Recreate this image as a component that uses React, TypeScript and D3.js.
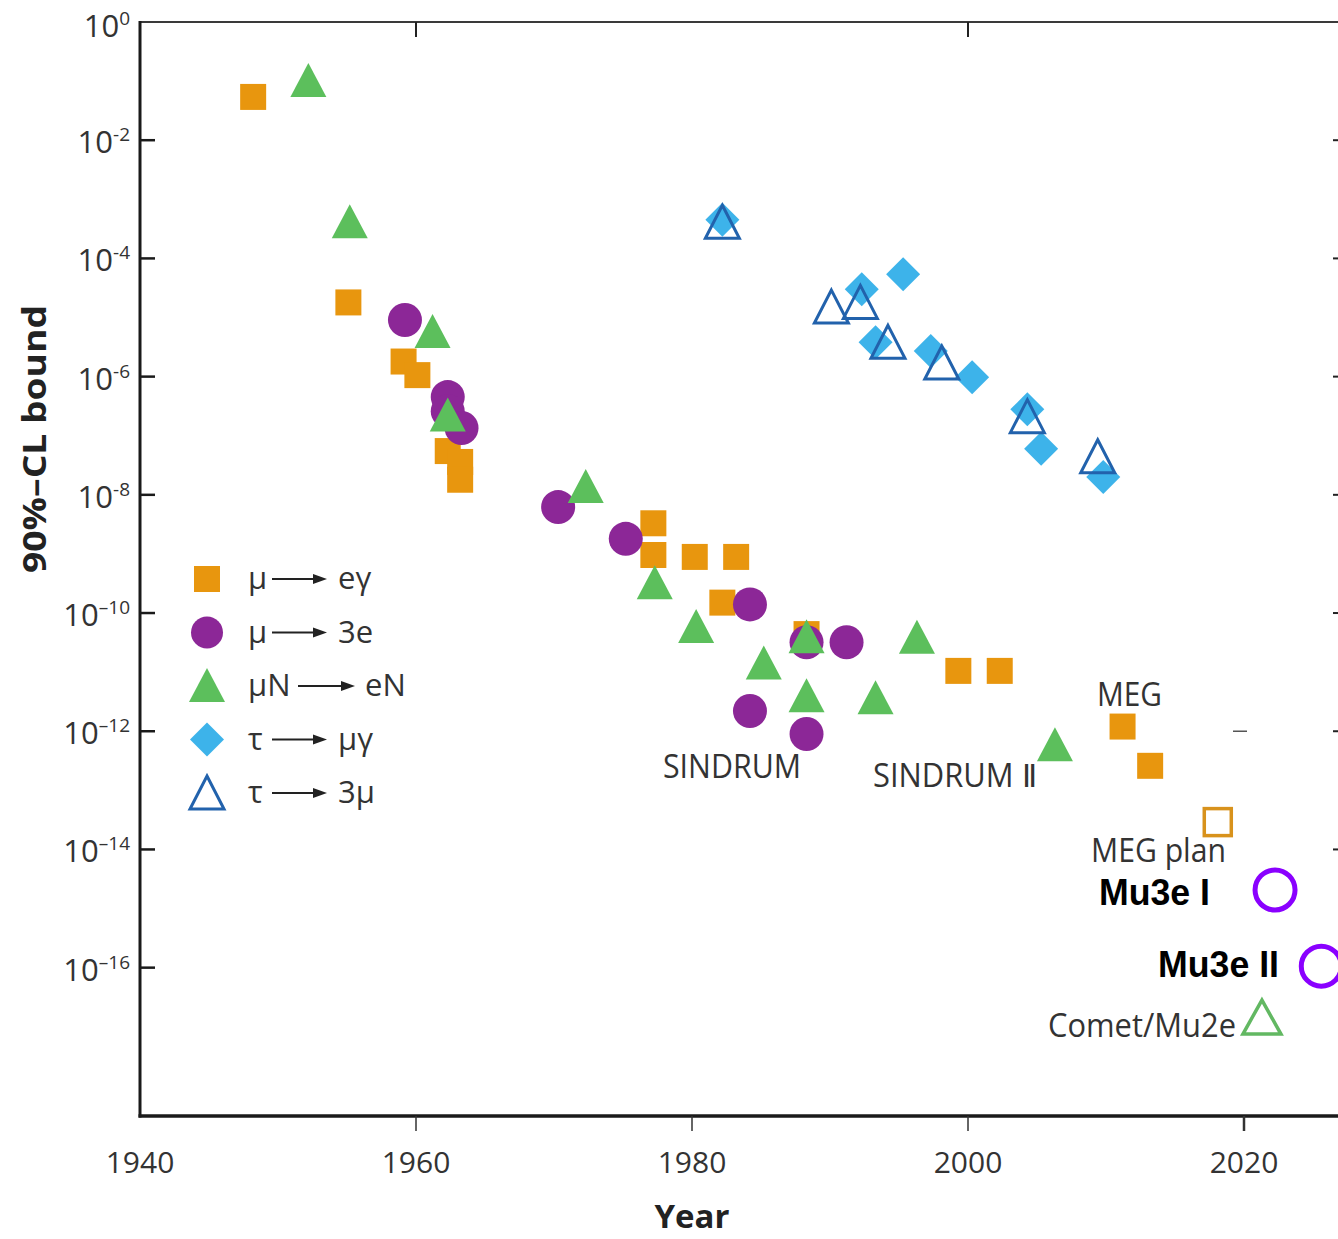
import { useEffect, useRef } from "react";
import * as d3 from "d3";

// μ → eγ (filled orange squares)
const muEgYears = [1948.2, 1955.1, 1959.1, 1960.1, 1962.3, 1963.2, 1963.2, 1977.2, 1977.2, 1980.2, 1983.2, 1982.2, 1988.3, 1999.3, 2002.3, 2011.2, 2013.2];
const muEgValues = [5.4e-2, 1.8e-5, 1.8e-6, 1.06e-6, 5.5e-8, 3.6e-8, 1.8e-8, 3.3e-9, 9.6e-10, 8.9e-10, 8.9e-10, 1.5e-10, 4.4e-11, 1.05e-11, 1.05e-11, 1.2e-12, 2.6e-13];

// μ → 3e (filled purple circles)
const mu3eYears = [1959.2, 1962.3, 1962.3, 1963.3, 1970.3, 1975.2, 1984.2, 1988.3, 1991.2, 1984.2, 1988.3];
const mu3eValues = [9.1e-6, 4.5e-7, 2.6e-7, 1.35e-7, 6.2e-9, 1.8e-9, 1.4e-10, 3.2e-11, 3.2e-11, 2.2e-12, 9e-13];

// μN → eN (filled green triangles)
const muNeNYears = [1952.2, 1955.2, 1961.2, 1962.3, 1972.3, 1977.3, 1980.3, 1985.2, 1988.3, 1988.3, 1993.3, 1996.3, 2006.3];
const muNeNValues = [1.0e-1, 4.1e-4, 5.7e-6, 2.2e-7, 1.35e-8, 3.2e-10, 5.8e-11, 1.4e-11, 3.9e-11, 3.9e-12, 3.6e-12, 3.8e-11, 5.8e-13];

// τ → μγ (light blue diamonds)
const tauMuGYears = [1982.2, 1992.3, 1995.3, 1993.3, 1997.3, 2000.3, 2004.3, 2005.3, 2009.8];
const tauMuGValues = [4.5e-4, 3.0e-5, 5.4e-5, 3.8e-6, 2.7e-6, 9.8e-7, 2.8e-7, 6.0e-8, 2.0e-8];

// τ → 3μ (open blue triangles)
const tau3muYears = [1982.2, 1990.1, 1992.2, 1994.2, 1998.1, 2004.3, 2009.4];
const tau3muValues = [4.1e-4, 1.5e-5, 1.8e-5, 3.8e-6, 1.7e-6, 2.1e-7, 4.4e-8];

// planned experiments
const megPlan = { year: 2018.1, value: 2.9e-14 };
const cometMu2e = { year: 2021.3, value: 1.46e-17 };
const mu3ePhases = ["Mu3e I", "Mu3e II"];
const mu3eYearsPlan = [2022.25, 2025.6];
const mu3eValuesPlan = [2.06e-15, 1.06e-16];

const yTickExponents = [0, -2, -4, -6, -8, -10, -12, -14, -16];
const xTickYears = [1940, 1960, 1980, 2000, 2020];

const legendItems = [
  { left: "μ", right: "eγ", kind: "square" },
  { left: "μ", right: "3e", kind: "circle" },
  { left: "μN", right: "eN", kind: "triangle" },
  { left: "τ", right: "μγ", kind: "diamond" },
  { left: "τ", right: "3μ", kind: "openTriangle" },
];

const COLORS = {
  square: "#E8960E",
  circle: "#8C2797",
  triangle: "#5CBF5C",
  diamond: "#3DB3EA",
  openTriangle: "#2262AC",
  mu3e: "#8A00FF",
};

const FONT = "'Open Sans', 'Noto Sans', sans-serif";

function markerPath(kind: string, cx: number, cy: number) {
  if (kind === "square") {
    const s = 13;
    return `M${cx - s},${cy - s}h${2 * s}v${2 * s}h${-2 * s}Z`;
  }
  if (kind === "diamond") {
    const s = 17;
    return `M${cx},${cy - s}L${cx + s},${cy}L${cx},${cy + s}L${cx - s},${cy}Z`;
  }
  if (kind === "triangle") {
    return `M${cx},${cy - 18}L${cx + 18},${cy + 16}L${cx - 18},${cy + 16}Z`;
  }
  if (kind === "openTriangle") {
    return `M${cx},${cy - 17}L${cx + 17},${cy + 16}L${cx - 17},${cy + 16}Z`;
  }
  return "";
}

export default function App() {
  const ref = useRef<SVGSVGElement | null>(null);
  const width = 1338;
  const height = 1239;
  const margin = { top: 22, left: 140, right: 1345, bottom: 1116 };

  useEffect(() => {
    if (!ref.current) return;
    const svg = d3.select(ref.current);
    svg.selectAll("*").remove();

    const x = d3.scaleLinear().domain([1940, 1940 + (margin.right - margin.left) / 13.8]).range([margin.left, margin.right]);
    const y = d3.scaleLog().domain([1, Math.pow(10, -18.51)]).range([margin.top, margin.bottom]);

    // frame: top and right (thin), left and bottom (thick)
    svg.append("line").attr("x1", margin.left).attr("x2", width).attr("y1", margin.top).attr("y2", margin.top)
      .attr("stroke", "#3a3a3a").attr("stroke-width", 2);
    [1960, 2000].forEach((yr) => {
      svg.append("line").attr("x1", x(yr)).attr("x2", x(yr)).attr("y1", margin.top).attr("y2", margin.top + 15)
        .attr("stroke", "#222").attr("stroke-width", 2);
    });
    yTickExponents.filter((e) => e < 0 && e > -16).forEach((e) => {
      svg.append("line").attr("x1", margin.right - 12).attr("x2", margin.right).attr("y1", y(Math.pow(10, e))).attr("y2", y(Math.pow(10, e)))
        .attr("stroke", "#222").attr("stroke-width", 2);
    });
    // stray dash near 10^-12
    svg.append("line").attr("x1", 1233).attr("x2", 1247).attr("y1", y(1e-12)).attr("y2", y(1e-12))
      .attr("stroke", "#555").attr("stroke-width", 1.5);

    // Y axis
    const yAxis = svg.append("g").attr("transform", `translate(${margin.left},0)`);
    yAxis.append("line").attr("x1", 0).attr("x2", 0).attr("y1", margin.top - 1).attr("y2", margin.bottom + 1.5)
      .attr("stroke", "#1a1a1a").attr("stroke-width", 3);
    yTickExponents.forEach((e) => {
      const ty = y(Math.pow(10, e));
      if (e < 0) {
        yAxis.append("line").attr("x1", 0).attr("x2", 15).attr("y1", ty).attr("y2", ty).attr("stroke", "#1a1a1a").attr("stroke-width", 2.5);
      }
      const label = yAxis.append("text").attr("x", -10).attr("y", ty + (e === 0 ? 15 : 13))
        .attr("text-anchor", "end").style("font-family", FONT).style("fill", "#333");
      label.append("tspan").style("font-size", "31px").text("10");
      const expText = e === 0 ? "0" : (e > -10 ? "-" : "–") + String(-e);
      label.append("tspan").attr("dy", -12).style("font-size", "19px").text(expText);
    });

    // X axis
    const xAxis = svg.append("g").attr("transform", `translate(0,${margin.bottom})`);
    xAxis.append("line").attr("x1", margin.left - 1.5).attr("x2", width).attr("y1", 0).attr("y2", 0)
      .attr("stroke", "#1a1a1a").attr("stroke-width", 3.5);
    xTickYears.forEach((yr) => {
      if (yr > 1940) {
        xAxis.append("line").attr("x1", x(yr)).attr("x2", x(yr)).attr("y1", 0).attr("y2", 15)
          .attr("stroke", "#333").attr("stroke-width", yr === 2020 ? 2.5 : 1.5);
      }
      xAxis.append("text").attr("x", x(yr)).attr("y", 57).attr("text-anchor", "middle")
        .style("font-family", FONT).style("font-size", "30px").style("fill", "#333").text(String(yr));
    });

    // axis titles
    svg.append("text").attr("x", x(1980)).attr("y", 1228).attr("text-anchor", "middle")
      .style("font-family", FONT).style("font-size", "33px").style("font-weight", "bold").style("fill", "#222").text("Year");
    svg.append("text").attr("transform", "translate(46,439) rotate(-90)").attr("text-anchor", "middle")
      .attr("textLength", 268).attr("lengthAdjust", "spacingAndGlyphs")
      .style("font-family", FONT).style("font-size", "33px").style("font-weight", "bold").style("fill", "#222").text("90%–CL bound");

    const plot = svg.append("g");

    const drawFilled = (years: number[], values: number[], kind: string) => {
      const pts = years.map((yr, i) => ({ yr, v: values[i] }));
      if (kind === "circle") {
        plot.selectAll(null).data(pts).enter().append("circle")
          .attr("cx", (d) => x(d.yr)).attr("cy", (d) => y(d.v)).attr("r", 17).attr("fill", COLORS.circle);
      } else {
        plot.selectAll(null).data(pts).enter().append("path")
          .attr("d", (d) => markerPath(kind, x(d.yr), y(d.v)))
          .attr("fill", kind === "openTriangle" ? "none" : (COLORS as any)[kind])
          .attr("stroke", kind === "openTriangle" ? COLORS.openTriangle : "none")
          .attr("stroke-width", 3).attr("stroke-linejoin", "miter");
      }
    };

    drawFilled(muEgYears, muEgValues, "square");
    drawFilled(mu3eYears, mu3eValues, "circle");
    drawFilled(muNeNYears, muNeNValues, "triangle");
    drawFilled(tauMuGYears, tauMuGValues, "diamond");
    drawFilled(tau3muYears, tau3muValues, "openTriangle");

    // planned: MEG plan open square
    plot.append("rect").attr("x", x(megPlan.year) - 13.5).attr("y", y(megPlan.value) - 13.5)
      .attr("width", 27).attr("height", 27).attr("fill", "none").attr("stroke", "#D8921C").attr("stroke-width", 3.5);
    // Comet/Mu2e open triangle
    const cx = x(cometMu2e.year), cy = y(cometMu2e.value);
    plot.append("path").attr("d", `M${cx},${cy - 17}L${cx + 19},${cy + 17}L${cx - 19},${cy + 17}Z`)
      .attr("fill", "none").attr("stroke", "#62B862").attr("stroke-width", 3.5);
    // Mu3e open circles
    mu3ePhases.forEach((p, i) => {
      plot.append("circle").attr("cx", x(mu3eYearsPlan[i])).attr("cy", y(mu3eValuesPlan[i])).attr("r", 20)
        .attr("fill", "none").attr("stroke", COLORS.mu3e).attr("stroke-width", 5);
    });

    // annotations
    const note = (txt: string, lx: number, ly: number, len: number, size: number, bold = false) => {
      plot.append("text").attr("x", lx).attr("y", ly).attr("textLength", len).attr("lengthAdjust", "spacingAndGlyphs")
        .style("font-family", bold ? "'Liberation Sans', Arial, sans-serif" : FONT)
        .style("font-size", `${size}px`).style("font-weight", bold ? "bold" : "normal")
        .style("fill", bold ? "#000" : "#333").text(txt);
    };
    note("SINDRUM", 663, 778, 138, 32);
    note("SINDRUM Ⅱ", 873, 787, 164, 32);
    note("MEG", 1097, 706, 65, 32);
    note("MEG plan", 1091, 862, 135, 32);
    note("Comet/Mu2e", 1048, 1037, 188, 32);
    note(mu3ePhases[0], 1099, 905, 111, 36, true);
    note(mu3ePhases[1], 1158, 977, 121, 36, true);

    // legend
    const legend = svg.append("g");
    legendItems.forEach((item, i) => {
      const ly = 579 + i * 53.5;
      if (item.kind === "circle") {
        legend.append("circle").attr("cx", 207).attr("cy", ly).attr("r", 16).attr("fill", COLORS.circle);
      } else {
        legend.append("path").attr("d", markerPath(item.kind, 207, ly))
          .attr("fill", item.kind === "openTriangle" ? "none" : (COLORS as any)[item.kind])
          .attr("stroke", item.kind === "openTriangle" ? COLORS.openTriangle : "none").attr("stroke-width", 3);
      }
      const wide = item.left.length > 1;
      const a0 = wide ? 298 : 272;
      const a1 = wide ? 355 : 327;
      legend.append("text").attr("x", 248).attr("y", ly + 10).style("font-family", FONT).style("font-size", "31px")
        .style("fill", "#333").text(item.left);
      legend.append("line").attr("x1", a0).attr("x2", a1 - 10).attr("y1", ly).attr("y2", ly)
        .attr("stroke", "#222").attr("stroke-width", 2);
      legend.append("path").attr("d", `M${a1},${ly}L${a1 - 14},${ly - 5}L${a1 - 14},${ly + 5}Z`).attr("fill", "#222");
      legend.append("text").attr("x", wide ? 365 : 338).attr("y", ly + 10).style("font-family", FONT).style("font-size", "31px")
        .style("fill", "#333").text(item.right);
    });
  }, []);

  return (
    <div style={{ position: "absolute", left: 0, top: 0, width, height, background: "#fff" }}>
      <svg ref={ref} width={width} height={height} style={{ display: "block" }} />
    </div>
  );
}
